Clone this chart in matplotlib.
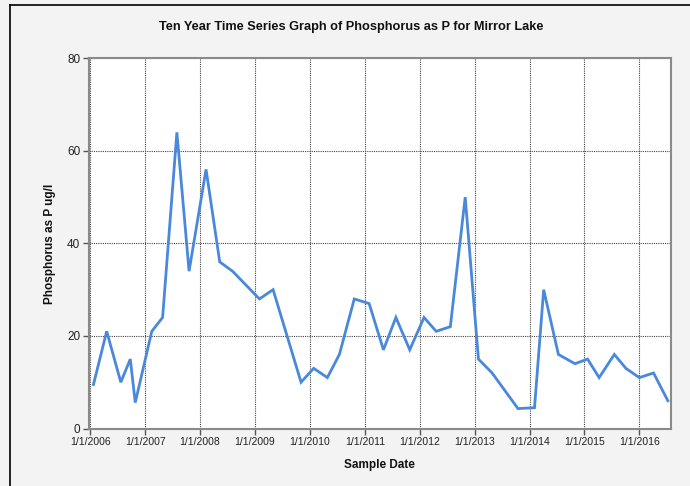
import numpy as np
import pandas as pd
import matplotlib
matplotlib.use("Agg")
import matplotlib.pyplot as plt
from matplotlib.lines import Line2D

# ----------------------
# Data
# ----------------------
sample_dates = [
    "2006-01-22", "2006-04-20", "2006-07-23", "2006-09-24", "2006-10-27",
    "2007-02-14", "2007-04-27", "2007-07-31", "2007-10-20", "2008-02-10",
    "2008-05-11", "2008-08-04", "2009-01-30", "2009-05-01", "2009-11-03",
    "2010-01-26", "2010-04-27", "2010-07-16", "2010-10-23", "2011-01-30",
    "2011-05-05", "2011-07-27", "2011-10-27", "2012-01-30", "2012-04-20",
    "2012-07-23", "2012-10-30", "2013-01-26", "2013-04-27", "2013-10-16",
    "2014-02-03", "2014-04-05", "2014-07-12", "2014-10-30", "2015-01-22",
    "2015-04-09", "2015-07-19", "2015-10-04", "2016-01-01", "2016-04-05",
    "2016-07-09",
]
phosphorus = [
    9.5, 21, 10, 15, 5.6,
    21, 24, 64, 34, 56,
    36, 34, 28, 30, 10,
    13, 11, 16, 28, 27,
    17, 24, 17, 24, 21,
    22, 50, 15, 12, 4.3,
    4.5, 30, 16, 14, 15,
    11, 16, 13, 11, 12,
    6,
]
tick_years = list(range(2006, 2017))
tick_labels = [f"1/1/{y}" for y in tick_years]
y_ticks = [0, 20, 40, 60, 80]

dates = pd.to_datetime(sample_dates)

# ----------------------
# Figure
# ----------------------
plt.rcParams['font.family'] = ['Liberation Sans', 'DejaVu Sans']
fig = plt.figure(figsize=(6.9, 4.86), dpi=100, facecolor='#f3f3f3')
ax = fig.add_axes([88.5 / 690, 1 - 428.5 / 486, (671 - 88.5) / 690, (428.5 - 58.3) / 486])
ax.set_facecolor('white')

ax.plot(dates, phosphorus, color='#4a88dc', lw=2.0, solid_joinstyle='miter', zorder=3)

ax.set_xlim(pd.Timestamp("2005-12-20"), pd.Timestamp("2016-07-30"))
ax.set_ylim(0, 80)
ax.set_xticks(pd.to_datetime([f"{y}-01-01" for y in tick_years]))
ax.set_xticklabels(tick_labels)
ax.set_yticks(y_ticks)

ax.grid(True, color='#444444', lw=0.8, ls=(0, (1, 1)))
ax.set_axisbelow(True)
for s in ax.spines.values():
    s.set_color('#8a8a8a')
    s.set_linewidth(1.5)
ax.tick_params(axis='both', direction='out', length=4, width=1, color='#555555',
               labelcolor='#222222', pad=2)
ax.tick_params(axis='x', labelsize=7.5)
ax.tick_params(axis='y', labelsize=8.5)

fig.text(351 / 690, 1 - 27 / 486,
         "Ten Year Time Series Graph of Phosphorus as P for Mirror Lake",
         fontsize=9.2, fontweight='bold', color='#111111', ha='center', va='center')
ax.set_xlabel("Sample Date", fontsize=8.5, fontweight='bold', color='#111111', labelpad=9)
ax.set_ylabel("Phosphorus as P ug/l", fontsize=8.5, fontweight='bold', color='#111111', labelpad=8)

# outer frame (clipped at right/bottom like the reference)
fig.add_artist(Line2D([10 / 690, 1], [1 - 5 / 486, 1 - 5 / 486], color='black', lw=1.2))
fig.add_artist(Line2D([10 / 690, 10 / 690], [0, 1 - 5 / 486], color='black', lw=1.2))

fig.savefig("out.png", dpi=100, facecolor=fig.get_facecolor())
